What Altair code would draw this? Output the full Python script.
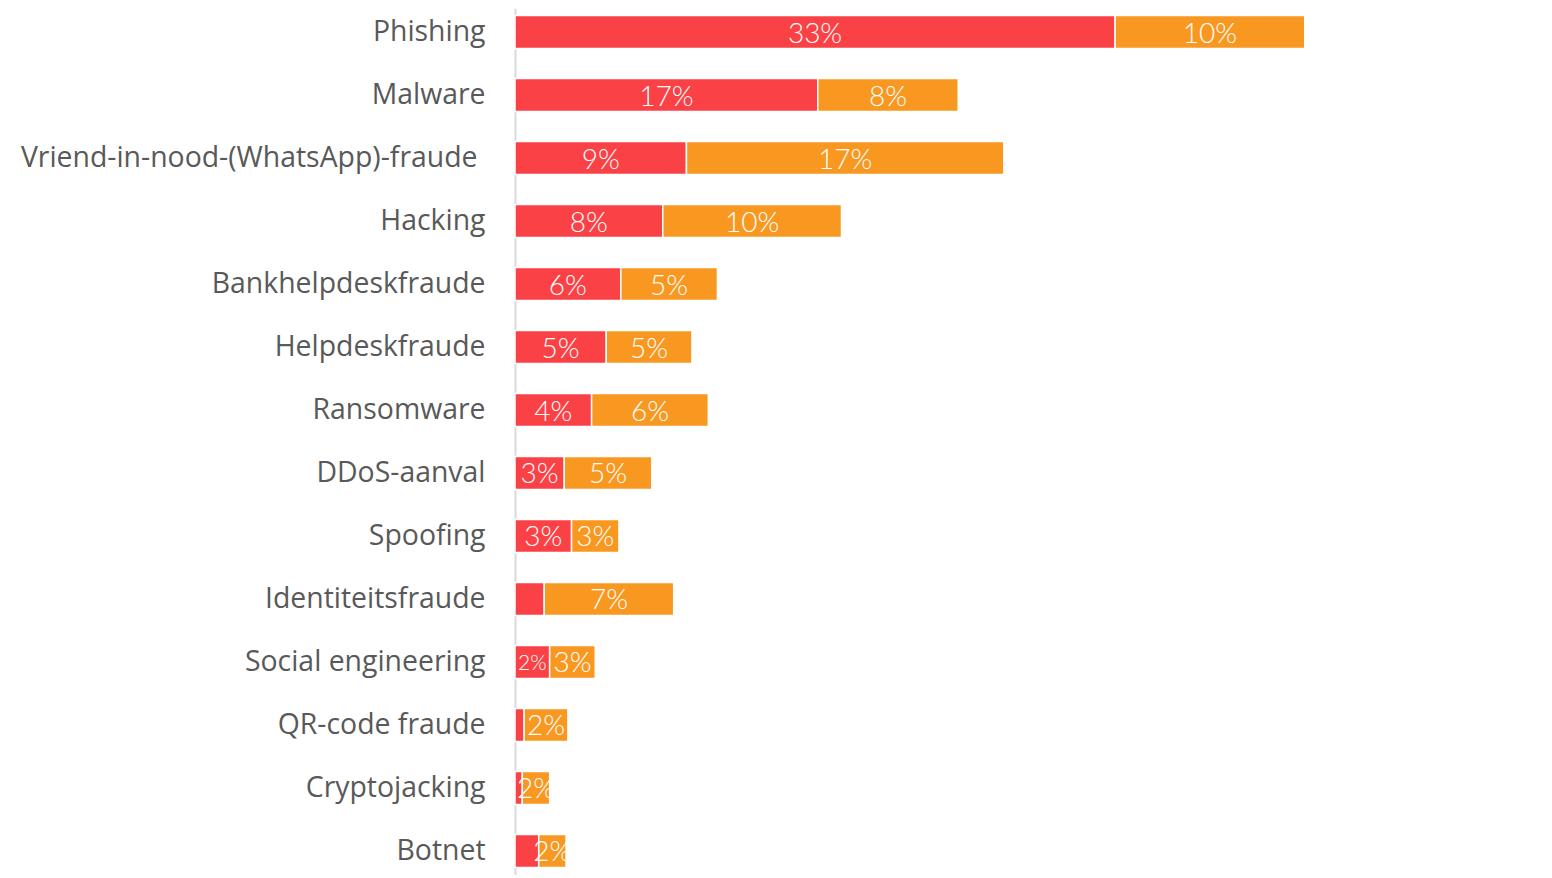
import altair as alt
import pandas as pd

categories = [
    "Phishing", "Malware", "Vriend-in-nood-(WhatsApp)-fraude", "Hacking",
    "Bankhelpdeskfraude", "Helpdeskfraude", "Ransomware", "DDoS-aanval",
    "Spoofing", "Identiteitsfraude", "Social engineering", "QR-code fraude",
    "Cryptojacking", "Botnet",
]
red_values = [32.9, 16.6, 9.4, 8.1, 5.8, 5.0, 4.2, 2.7, 3.1, 1.6, 1.9, 0.5, 0.4, 1.3]
orange_values = [10.4, 7.7, 17.4, 9.8, 5.3, 4.7, 6.4, 4.8, 2.6, 7.1, 2.5, 2.4, 1.5, 1.5]
red_labels = ["33%", "17%", "9%", "8%", "6%", "5%", "4%", "3%", "3%", "", "2%", "", "", ""]
orange_labels = ["10%", "8%", "17%", "10%", "5%", "5%", "6%", "5%", "3%", "7%", "3%", "2%", "2%", "2%"]
series = ["rood", "oranje"]
colors = ["#FA4146", "#F89820"]

rows = []
for i, c in enumerate(categories):
    r, o = red_values[i], orange_values[i]
    rows.append({"cat": c, "series": "rood", "ord": 0, "start": 0.0, "end": r,
                 "mid": r / 2, "label": red_labels[i]})
    rows.append({"cat": c, "series": "oranje", "ord": 1, "start": r, "end": r + o,
                 "mid": r + o / 2, "label": orange_labels[i]})
df = pd.DataFrame(rows)

yenc = alt.Y("cat:N", sort=categories, title=None,
             scale=alt.Scale(paddingInner=0.476, paddingOuter=0.119),
             axis=alt.Axis(ticks=False, grid=False, domain=True, domainColor="#D9D9D9",
                           domainWidth=2, labelFont="Open Sans", labelFontSize=28.4,
                           labelColor="#595959", labelLimit=600,
                           labelPadding={"condition": {"test": "indexof(datum.value, 'Vriend') === 0",
                                                       "value": 38}, "value": 30}))
xscale = alt.Scale(domain=[0, 50], nice=False, zero=True)

bars = alt.Chart(df).mark_bar(stroke="white", strokeWidth=1.5).encode(
    y=yenc,
    x=alt.X("start:Q", scale=xscale, axis=None),
    x2="end:Q",
    color=alt.Color("series:N", scale=alt.Scale(domain=series, range=colors), legend=None),
)

text = alt.Chart(df).mark_text(color="white", font="Lato", fontWeight=300,
                               baseline="middle", align="center", dy=2.5).encode(
    y=alt.Y("cat:N", sort=categories),
    x=alt.X("mid:Q", scale=xscale),
    text="label:N",
    size=alt.condition(
        (alt.datum.cat == "Social engineering") & (alt.datum.series == "rood"),
        alt.value(21), alt.value(28)),
)

chart = alt.layer(bars, text).properties(
    width=912, height=867,
    autosize=alt.AutoSizeParams(type="none"),
    padding={"left": 507, "top": 0, "right": 0, "bottom": 0},
).configure_view(stroke=None)

chart.save("out.html", embed_options={"renderer": "svg", "actions": False})
